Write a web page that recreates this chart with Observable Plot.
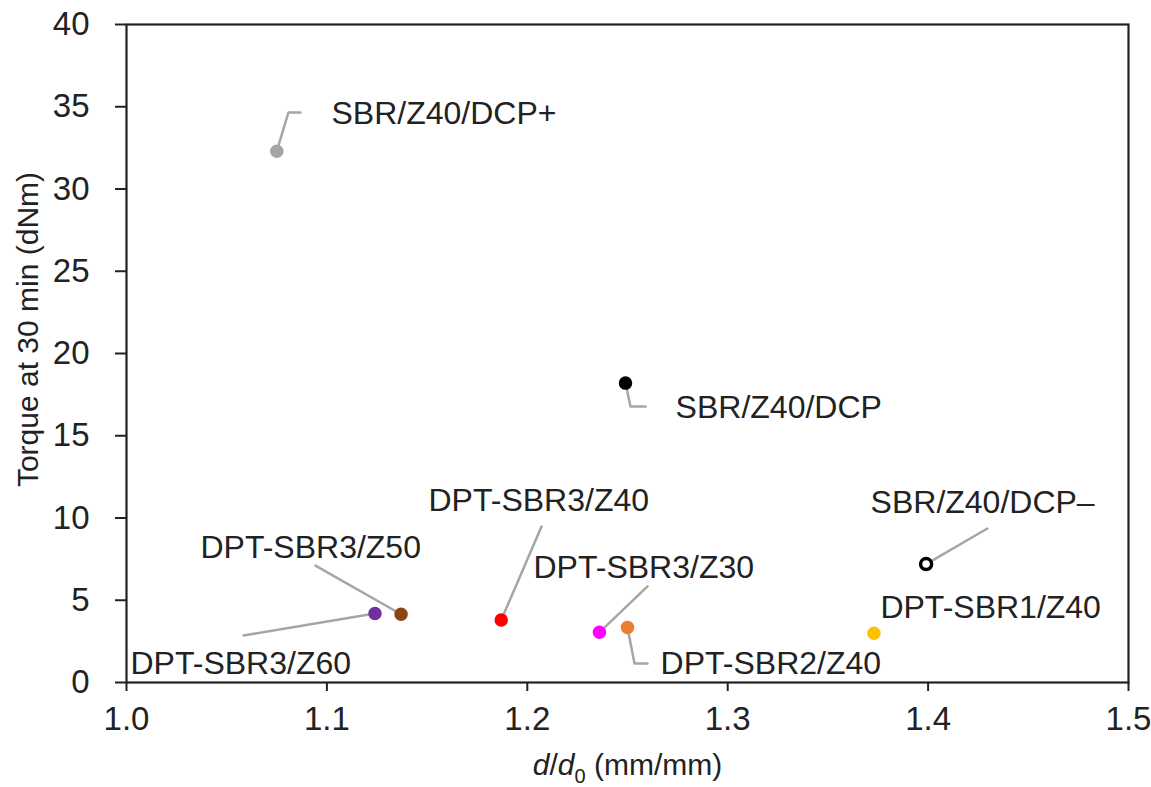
<!DOCTYPE html>
<html>
<head>
<meta charset="utf-8">
<script src="https://cdn.jsdelivr.net/npm/d3@7"></script>
<script src="https://cdn.jsdelivr.net/npm/@observablehq/plot@0.6"></script>
<style>
  body { margin: 0; background: #fff; }
  #chart { width: 1151px; height: 787px; }
</style>
</head>
<body>
<div id="chart"></div>
<script>
// ---- data ----
const samples = ["SBR/Z40/DCP+", "SBR/Z40/DCP", "SBR/Z40/DCP\u2013", "DPT-SBR1/Z40", "DPT-SBR2/Z40",
                 "DPT-SBR3/Z30", "DPT-SBR3/Z40", "DPT-SBR3/Z50", "DPT-SBR3/Z60"];
const swellRatio = [1.075, 1.249, 1.399, 1.373, 1.250, 1.236, 1.187, 1.137, 1.124];   // d/d0
const torque30   = [32.3, 18.2, 7.2, 3.0, 3.35, 3.05, 3.8, 4.15, 4.2];               // dNm
const xTicks = [1.0, 1.1, 1.2, 1.3, 1.4, 1.5];
const yTicks = [0, 5, 10, 15, 20, 25, 30, 35, 40];

// ---- annotation anchors (data units) ----
const labelX = [1.1023, 1.274, 1.3713, 1.3762, 1.2665, 1.2031, 1.1507, 1.0369, 1.002];
const labelY = [34.59, 16.72, 10.94, 4.56, 1.155, 6.99, 11.06, 8.21, 1.155];
const leaderX = [[1.0808, 1.0868], [1.2515, 1.259], [1.4296], [], [1.2535, 1.26], [1.26], [1.2071], [1.0943], [1.0584]];
const leaderY = [[34.65, 34.65], [16.78, 16.78], [9.36], [], [1.155, 1.155], [5.84], [9.48], [7.11], [2.86]];

// ---- colours ----
const fills   = ["#A5A5A5", "#000000", "#FFFFFF", "#FFC000", "#ED7D31", "#FF00FF", "#FF0000", "#8B4513", "#7030A0"];
const strokes = ["#A5A5A5", "#000000", "#000000", "#FFC000", "#ED7D31", "#FF00FF", "#FF0000", "#8B4513", "#7030A0"];
const openMarker = [false, false, true, false, false, false, false, false, false];

const points = samples.map((name, i) => ({
  name, x: swellRatio[i], y: torque30[i], lx: labelX[i], ly: labelY[i],
  fill: fills[i], stroke: strokes[i], open: openMarker[i]
}));
const leaderRows = [];
samples.forEach((name, i) => {
  if (!leaderX[i].length) return;
  leaderRows.push({name, x: swellRatio[i], y: torque30[i]});
  leaderX[i].forEach((lx, j) => leaderRows.push({name, x: lx, y: leaderY[i][j]}));
});

const xTitle = "d/d0 (mm/mm)";
const yTitle = "Torque at 30 min (dNm)";
const ink = "#222";

const chart = Plot.plot({
  width: 1151,
  height: 787,
  marginLeft: 126,
  marginRight: 23,
  marginTop: 24,
  marginBottom: 105,
  style: {fontFamily: "Arial, 'Liberation Sans', sans-serif", color: ink, background: "#fff"},
  x: {domain: [1.0, 1.5]},
  y: {domain: [0, 40]},
  marks: [
    Plot.axisX({ticks: xTicks, tickFormat: d3.format(".1f"), tickSize: 9, tickPadding: 15,
                fontSize: 33, label: null, stroke: ink, strokeWidth: 2}),
    Plot.axisY({ticks: yTicks, tickSize: 11, tickPadding: 26, fontSize: 33, label: null,
                stroke: ink, strokeWidth: 2}),
    Plot.frame({stroke: ink, strokeWidth: 2.2}),
    Plot.line(leaderRows, {x: "x", y: "y", z: "name", stroke: "#A6A6A6", strokeWidth: 2.5}),
    Plot.dot(points.filter(d => !d.open), {x: "x", y: "y", r: 6, fill: "fill", stroke: "stroke", strokeWidth: 1.5}),
    Plot.dot(points.filter(d => d.open), {x: "x", y: "y", r: 5.5, fill: "fill", stroke: "stroke", strokeWidth: 3.5}),
    Plot.text(points, {x: "lx", y: "ly", text: "name", textAnchor: "start", fontSize: 32, fill: ink}),
    Plot.text([yTitle], {frameAnchor: "left", textAnchor: "middle", rotate: -90, dx: -98, dy: -24, fontSize: 30, fill: ink}),
    Plot.text([xTitle], {frameAnchor: "bottom", textAnchor: "middle", dy: 92, fontSize: 30, fill: ink})
  ]
});
document.getElementById("chart").appendChild(chart);

// rich formatting of the x-axis title: italic d, subscript 0
const ns = "http://www.w3.org/2000/svg";
chart.querySelectorAll("text").forEach(t => {
  if (t.textContent !== xTitle) return;
  t.textContent = "";
  const parts = [
    {s: "d", italic: true}, {s: "/"}, {s: "d", italic: true},
    {s: "0", size: "20px", dy: 8}, {s: " (mm/mm)", dy: -8}
  ];
  parts.forEach(p => {
    const sp = document.createElementNS(ns, "tspan");
    sp.textContent = p.s;
    if (p.italic) sp.setAttribute("font-style", "italic");
    if (p.size) sp.setAttribute("font-size", p.size);
    if (p.dy) sp.setAttribute("dy", p.dy);
    t.appendChild(sp);
  });
});
</script>
</body>
</html>
